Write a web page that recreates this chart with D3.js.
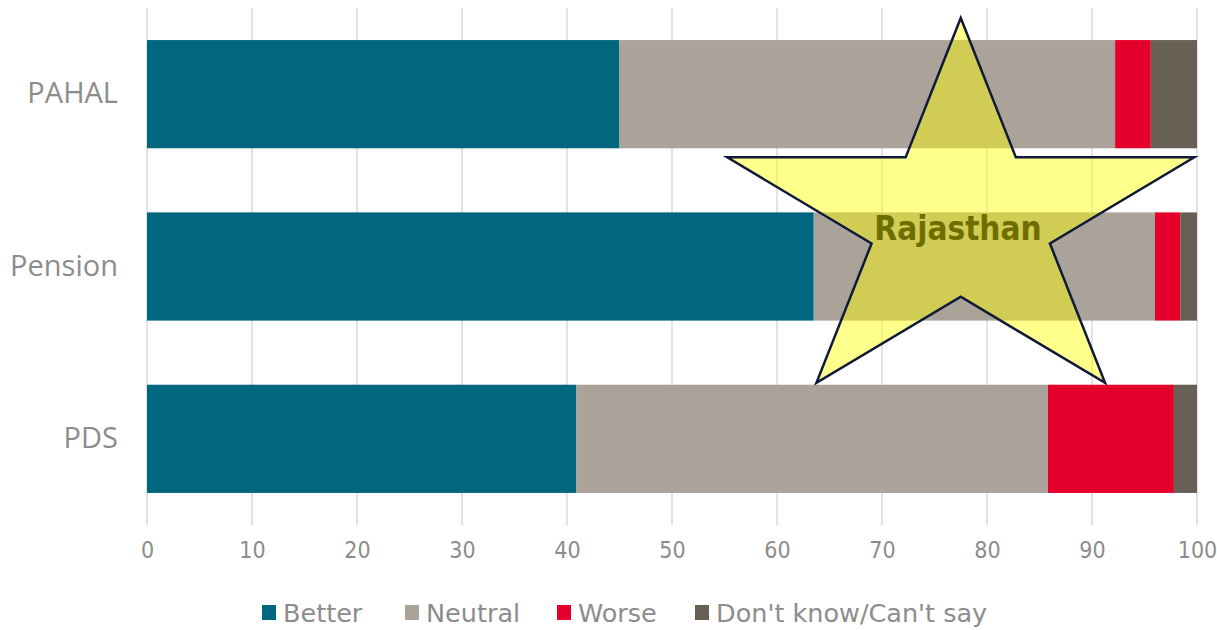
<!DOCTYPE html>
<html>
<head>
<meta charset="utf-8">
<script src="https://d3js.org/d3.v7.min.js"></script>
<style>
  body { margin: 0; background: #fff; }
  svg text { fill: #8c8c8c; }
</style>
</head>
<body>
<script>
// chart values
var schemes = ["PAHAL", "Pension", "PDS"];
var answers = ["Better", "Neutral", "Worse", "Don't know/Can't say"];
var better  = [45.0, 63.5, 40.9];
var neutral = [47.2, 32.5, 44.9];
var worse   = [3.4, 2.4, 12.0];
var dontKnow = [4.4, 1.6, 2.2];
var xTicks = [0, 10, 20, 30, 40, 50, 60, 70, 80, 90, 100];
var starLabel = "Rajasthan";

var colors = ["#00677f", "#aba399", "#e4002b", "#685f55"];

var W = 1217, H = 630;
var margin = {top: 8, right: 20, bottom: 106, left: 147};

var svg = d3.select("body").append("svg")
    .attr("width", W)
    .attr("height", H);

var x = d3.scaleLinear()
    .domain([0, 100])
    .range([margin.left, 1197]);

var y = d3.scaleBand()
    .domain(schemes)
    .range([margin.top, H - margin.bottom + 1])
    .paddingInner(0.372)
    .paddingOuter(0.186);

// gridlines
svg.append("g")
    .selectAll("line")
    .data(xTicks)
    .join("line")
    .attr("x1", d => x(d)).attr("x2", d => x(d))
    .attr("y1", margin.top).attr("y2", H - margin.bottom + 1)
    .attr("stroke", "#e3e3e3")
    .attr("stroke-width", 2);

// stack rows
var rows = schemes.map((s, i) => ({
    scheme: s,
    "Better": better[i],
    "Neutral": neutral[i],
    "Worse": worse[i],
    "Don't know/Can't say": dontKnow[i]
}));
var series = d3.stack().keys(answers)(rows);

svg.append("g")
    .selectAll("g")
    .data(series)
    .join("g")
    .attr("fill", (d, i) => colors[i])
    .selectAll("rect")
    .data(d => d)
    .join("rect")
    .attr("x", d => x(d[0]))
    .attr("width", d => x(d[1]) - x(d[0]))
    .attr("y", d => y(d.data.scheme))
    .attr("height", y.bandwidth());

// x axis labels
var xAxis = svg.append("g")
    .attr("transform", "translate(0," + (H - margin.bottom + 1) + ")")
    .call(d3.axisBottom(x).tickValues(xTicks).tickSize(0).tickPadding(17));
xAxis.select(".domain").remove();
xAxis.selectAll("text")
    .attr("font-family", "'DejaVu Sans Condensed', 'DejaVu Sans', sans-serif")
    .attr("font-size", 23)
    .attr("fill", "#8c8c8c");

// y axis labels
var yAxis = svg.append("g")
    .attr("transform", "translate(" + margin.left + ",0)")
    .call(d3.axisLeft(y).tickSize(0).tickPadding(29));
yAxis.select(".domain").remove();
yAxis.selectAll("text")
    .attr("font-family", "'Open Sans', sans-serif")
    .attr("font-size", 29)
    .attr("fill", "#8c8c8c");

// star annotation
var cx = x(77.5), cy = 219.7;
var rx = 245.5, ry = 201.7, inner = 0.382;
var starPts = d3.range(10).map(k => {
    var a = k * Math.PI / 5;
    var r = k % 2 === 0 ? 1 : inner;
    return [cx + rx * r * Math.sin(a), cy - ry * r * Math.cos(a)];
});
svg.append("path")
    .attr("d", d3.line()(starPts) + "Z")
    .attr("fill", "rgba(255,255,0,0.45)")
    .attr("stroke", "#0f1a3a")
    .attr("stroke-width", 2.5)
    .attr("stroke-linejoin", "miter");

svg.append("text")
    .attr("x", 958)
    .attr("y", 240)
    .attr("text-anchor", "middle")
    .attr("font-family", "'DejaVu Sans Condensed', 'DejaVu Sans', sans-serif")
    .attr("font-weight", "bold")
    .attr("font-size", 33)
    .style("fill", "#6e6e00")
    .text(starLabel);

// legend
var legendX = [262, 405, 557, 695];
var legend = svg.append("g")
    .selectAll("g")
    .data(answers)
    .join("g")
    .attr("transform", (d, i) => "translate(" + legendX[i] + ",605)");
legend.append("rect")
    .attr("width", 14).attr("height", 15)
    .attr("fill", (d, i) => colors[i]);
legend.append("text")
    .attr("x", 21)
    .attr("y", 17)
    .attr("font-family", "'DejaVu Sans', sans-serif")
    .attr("font-size", 25.5)
    .attr("fill", "#8c8c8c")
    .text(d => d);
</script>
</body>
</html>
